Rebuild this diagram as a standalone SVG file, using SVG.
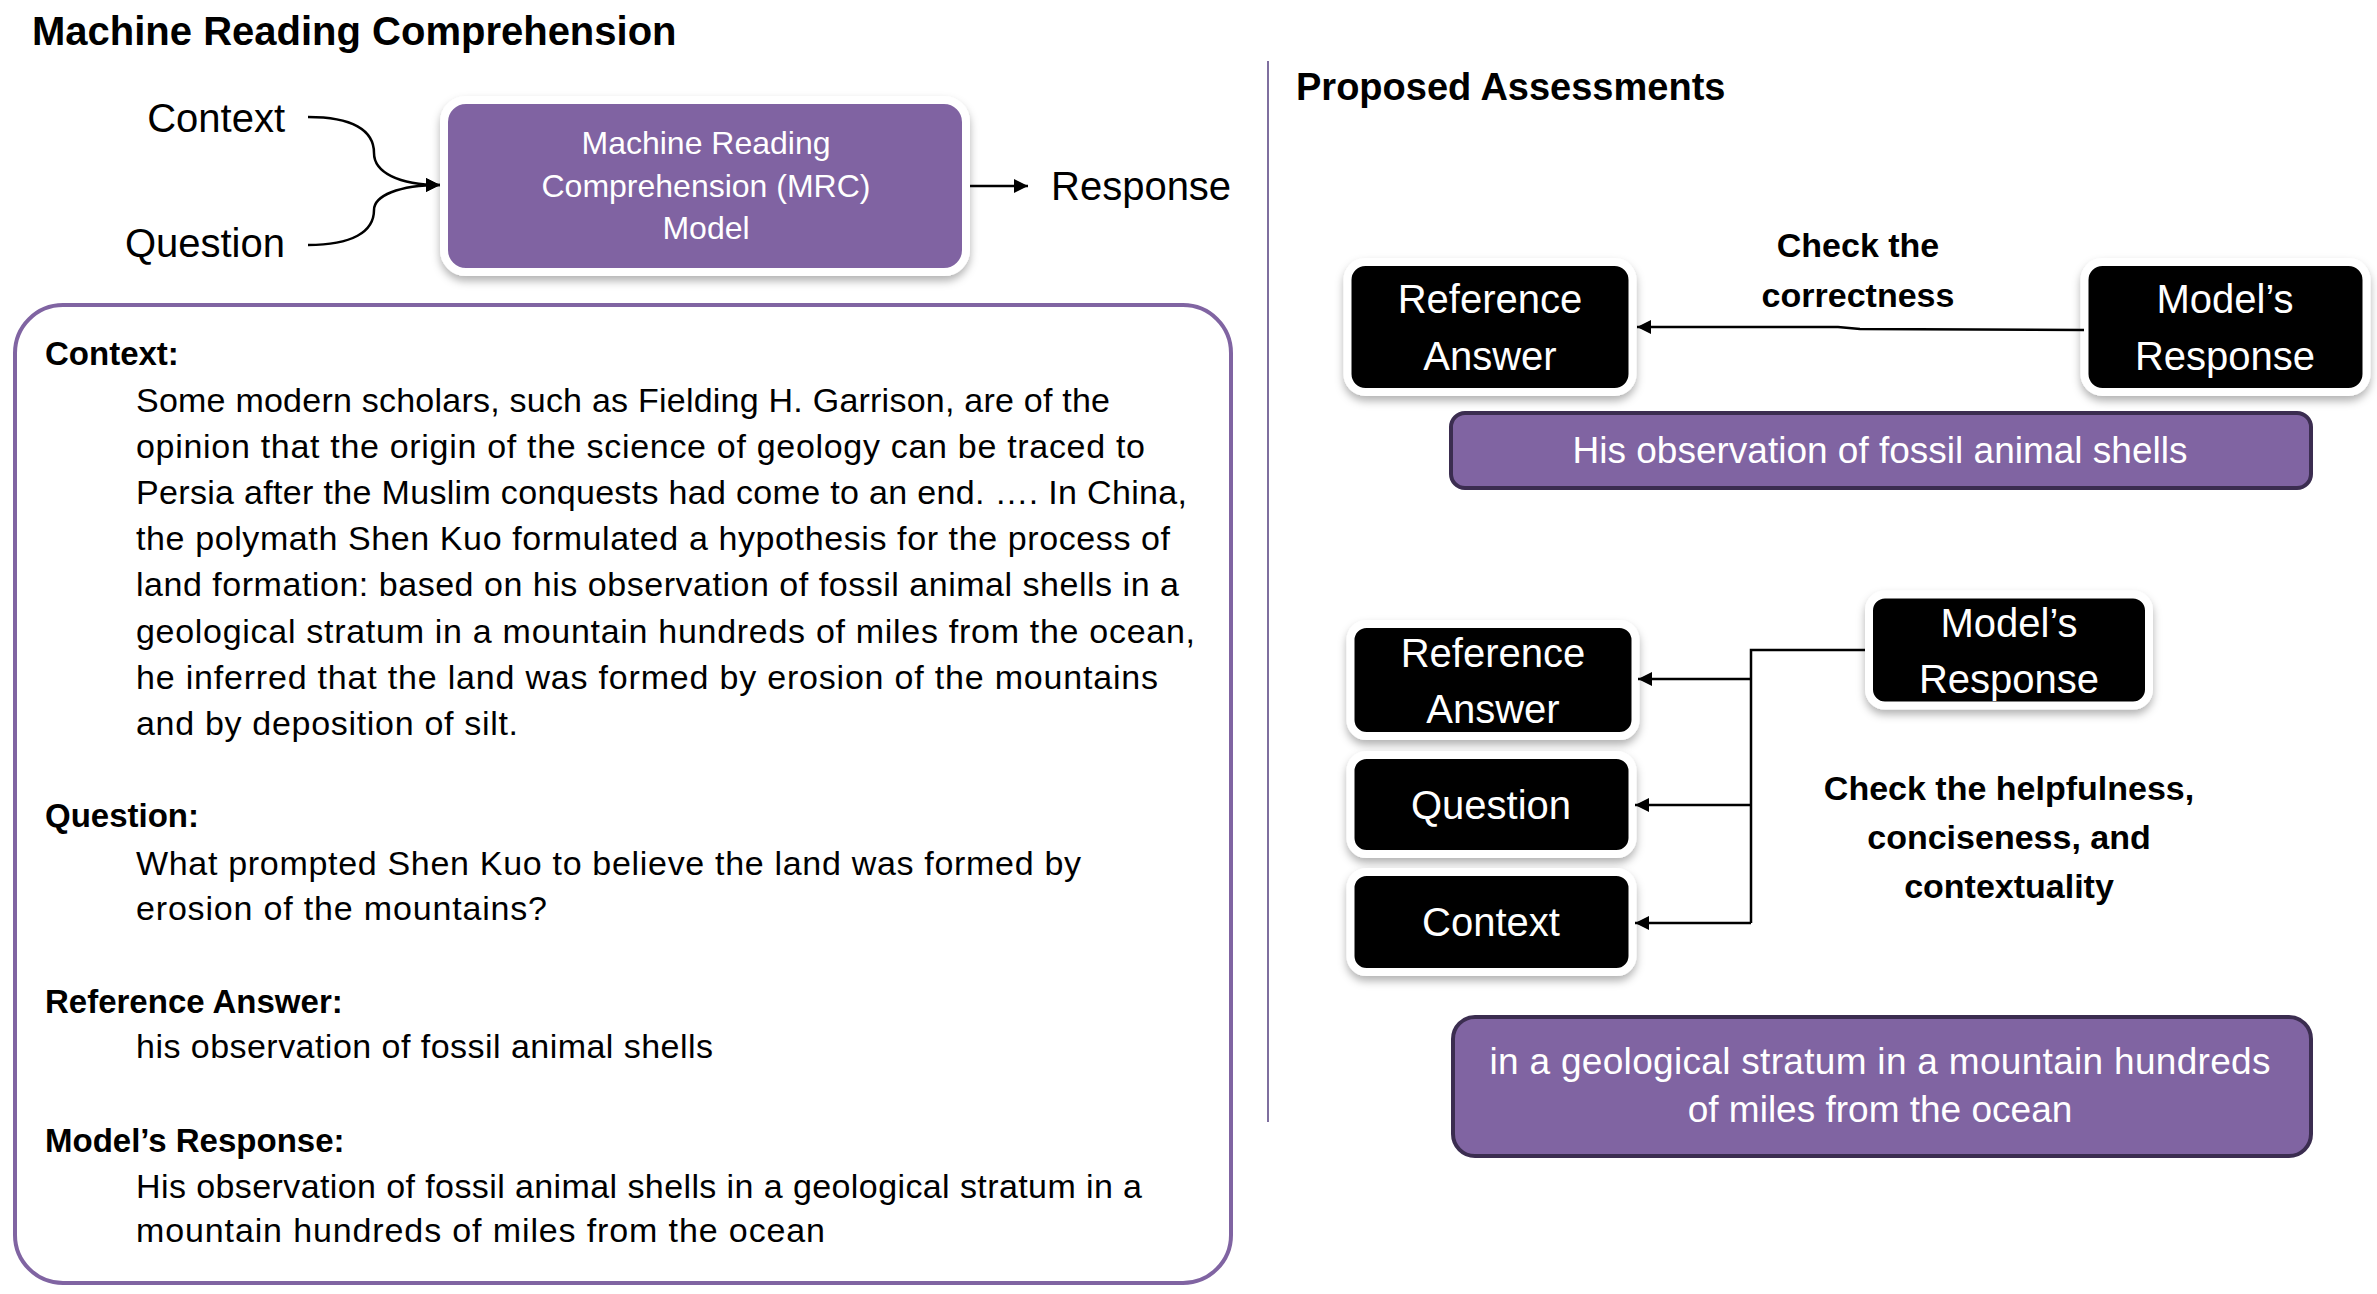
<svg xmlns="http://www.w3.org/2000/svg" width="2377" height="1294" viewBox="0 0 2377 1294">
<defs>
<style>
text{font-family:"Liberation Sans",Arial,sans-serif;fill:#000}
.h{font-weight:bold}
.b{font-size:34px}
.w{fill:#fff}
.c{text-anchor:middle}
.lbl{font-size:40px}
.con{fill:none;stroke:#000;stroke-width:2.5}
.blk{fill:#000;stroke:#fff;stroke-width:8;filter:url(#sh)}
.pur{fill:#8064A2;stroke:#3b2d50;stroke-width:4}
</style>
<filter id="sh" x="-10%" y="-10%" width="120%" height="130%">
<feDropShadow dx="0" dy="5" stdDeviation="4" flood-color="#000" flood-opacity="0.3"/>
</filter>
<marker id="ah" viewBox="0 0 10 10" refX="10" refY="5" markerUnits="userSpaceOnUse" markerWidth="14" markerHeight="14" orient="auto">
<path d="M0,0 L10,5 L0,10 z" fill="#000"/>
</marker>
</defs>
<rect width="2377" height="1294" fill="#fff"/>

<g id="title-left">
<text x="32" y="45" class="h" font-size="40">Machine Reading Comprehension</text>
</g>
<g id="label-context">
<text x="285" y="132" class="lbl" text-anchor="end">Context</text>
</g>
<g id="label-question">
<text x="285" y="257" class="lbl" text-anchor="end">Question</text>
</g>
<g id="mrc-model">
<rect x="444" y="100" width="522" height="172" rx="22" fill="#8064A2" stroke="#fff" stroke-width="8" filter="url(#sh)"/>
<text x="706" y="154" class="w c" font-size="32">Machine Reading</text>
<text x="706" y="197" class="w c" font-size="32">Comprehension (MRC)</text>
<text x="706" y="239" class="w c" font-size="32">Model</text>
</g>
<g id="label-response">
<text x="1051" y="200" class="lbl">Response</text>
</g>

<g id="divider">
<line x1="1268" y1="61" x2="1268" y2="1122" stroke="#7f6f9f" stroke-width="2"/>
</g>

<g id="example-panel">
<rect x="15" y="305" width="1216" height="978" rx="48" fill="#fff" stroke="#8064A2" stroke-width="4"/>
<text x="45" y="365" class="h" font-size="33">Context:</text>
<text x="136" y="412" class="b" textLength="974" lengthAdjust="spacing">Some modern scholars, such as Fielding H. Garrison, are of the</text>
<text x="136" y="458" class="b" textLength="1009" lengthAdjust="spacing">opinion that the origin of the science of geology can be traced to</text>
<text x="136" y="504" class="b" textLength="1051" lengthAdjust="spacing">Persia after the Muslim conquests had come to an end. …. In China,</text>
<text x="136" y="550" class="b" textLength="1034" lengthAdjust="spacing">the polymath Shen Kuo formulated a hypothesis for the process of</text>
<text x="136" y="596" class="b" textLength="1043" lengthAdjust="spacing">land formation: based on his observation of fossil animal shells in a</text>
<text x="136" y="643" class="b" textLength="1059" lengthAdjust="spacing">geological stratum in a mountain hundreds of miles from the ocean,</text>
<text x="136" y="689" class="b" textLength="1022" lengthAdjust="spacing">he inferred that the land was formed by erosion of the mountains</text>
<text x="136" y="735" class="b" textLength="382" lengthAdjust="spacing">and by deposition of silt.</text>
<text x="45" y="827" class="h" font-size="33">Question:</text>
<text x="136" y="875" class="b" textLength="945" lengthAdjust="spacing">What prompted Shen Kuo to believe the land was formed by</text>
<text x="136" y="920" class="b" textLength="411" lengthAdjust="spacing">erosion of the mountains?</text>
<text x="45" y="1013" class="h" font-size="33">Reference Answer:</text>
<text x="136" y="1058" class="b" textLength="577" lengthAdjust="spacing">his observation of fossil animal shells</text>
<text x="45" y="1152" class="h" font-size="33">Model’s Response:</text>
<text x="136" y="1198" class="b" textLength="1006" lengthAdjust="spacing">His observation of fossil animal shells in a geological stratum in a</text>
<text x="136" y="1242" class="b" textLength="689" lengthAdjust="spacing">mountain hundreds of miles from the ocean</text>
</g>

<g id="title-right">
<text x="1296" y="100" class="h" font-size="38">Proposed Assessments</text>
</g>

<g id="ref-answer-1">
<rect x="1347.5" y="262" width="285" height="130" rx="18" class="blk"/>
<text x="1490" y="313" class="w c lbl">Reference</text>
<text x="1490" y="370" class="w c lbl">Answer</text>
</g>
<g id="model-response-1">
<rect x="2084.5" y="262" width="282" height="130" rx="18" class="blk"/>
<text x="2225" y="313" class="w c lbl">Model’s</text>
<text x="2225" y="370" class="w c lbl">Response</text>
</g>
<g id="label-correctness">
<text x="1858" y="257" class="h c" font-size="34">Check the</text>
<text x="1858" y="307" class="h c" font-size="34">correctness</text>
</g>
<g id="answer-bar">
<rect x="1451" y="413" width="860" height="75" rx="14" class="pur"/>
<text x="1880" y="463" class="w c" font-size="37">His observation of fossil animal shells</text>
</g>

<g id="model-response-2">
<rect x="1869" y="594.5" width="280" height="111" rx="16" class="blk"/>
<text x="2009" y="637" class="w c lbl">Model’s</text>
<text x="2009" y="693" class="w c lbl">Response</text>
</g>
<g id="ref-answer-2">
<rect x="1350.5" y="624" width="285" height="112" rx="16" class="blk"/>
<text x="1493" y="667" class="w c lbl">Reference</text>
<text x="1493" y="723" class="w c lbl">Answer</text>
</g>
<g id="question-box">
<rect x="1350.5" y="755" width="282" height="99" rx="16" class="blk"/>
<text x="1491" y="819" class="w c lbl">Question</text>
</g>
<g id="context-box">
<rect x="1350.5" y="872" width="282" height="100" rx="16" class="blk"/>
<text x="1491" y="936" class="w c lbl">Context</text>
</g>
<g id="label-helpfulness">
<text x="2009" y="800" class="h c" font-size="34">Check the helpfulness,</text>
<text x="2009" y="849" class="h c" font-size="34">conciseness, and</text>
<text x="2009" y="898" class="h c" font-size="34">contextuality</text>
</g>
<g id="span-bar">
<rect x="1453" y="1017" width="858" height="139" rx="22" class="pur"/>
<text x="1880" y="1074" class="w c" font-size="37" textLength="781" lengthAdjust="spacing">in a geological stratum in a mountain hundreds</text>
<text x="1880" y="1122" class="w c" font-size="37">of miles from the ocean</text>
</g>

<g id="connectors">
<path class="con" d="M308,117 C352,117 374,130 374,153 C374,172 398,185 440,185" marker-end="url(#ah)"/>
<path class="con" d="M308,245 C352,245 374,232 374,210 C374,196 398,185 440,185" marker-end="url(#ah)"/>
<path class="con" d="M970,186 L1028,186" marker-end="url(#ah)"/>
<path class="con" d="M2084,330 L1860,329 L1838,327 L1637,327" marker-end="url(#ah)"/>
<path class="con" d="M1865,650 H1751 V923"/>
<path class="con" d="M1751,679 H1638" marker-end="url(#ah)"/>
<path class="con" d="M1751,805 H1635" marker-end="url(#ah)"/>
<path class="con" d="M1751,923 H1635" marker-end="url(#ah)"/>
</g>
</svg>
